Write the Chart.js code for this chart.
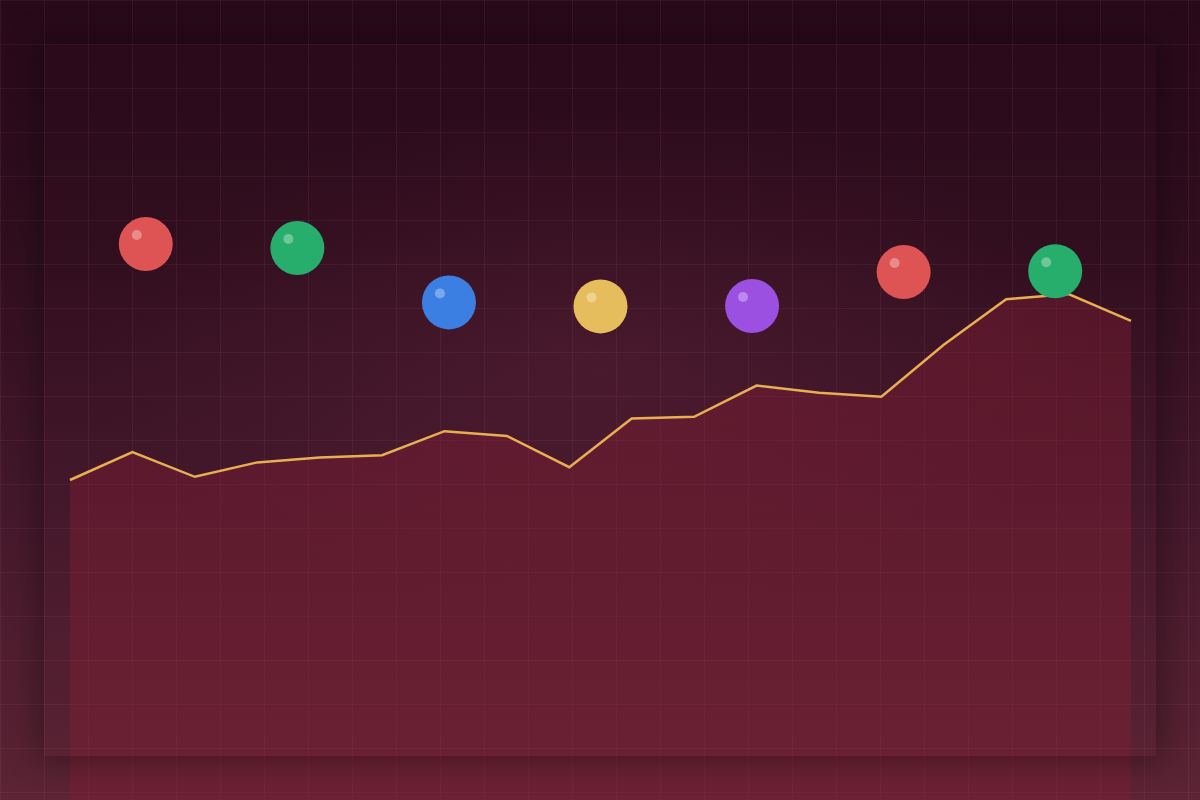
<!DOCTYPE html>
<html>
<head>
<meta charset="utf-8">
<title>Trend with markers</title>
<script src="https://cdn.jsdelivr.net/npm/chart.js@4.4.1/dist/chart.umd.min.js"></script>
<style>
  html, body { margin: 0; padding: 0; }
  body {
    width: 1200px;
    height: 800px;
    overflow: hidden;
    position: relative;
    background-color: #2c0d1c;
    background-image:
      linear-gradient(to right, rgba(255, 140, 190, 0.07) 1px, transparent 1px),
      linear-gradient(to bottom, rgba(255, 140, 190, 0.07) 1px, transparent 1px),
      radial-gradient(ellipse 60% 45% at 50% 45%, rgba(110, 40, 65, 0.3), rgba(0, 0, 0, 0) 70%),
      linear-gradient(to bottom, #28091a 0%, #300e1e 30%, #42172a 60%, #5c2434 100%);
    background-size: 44px 44px, 44px 44px, 100% 100%, 100% 100%;
  }
  .wrap { position: absolute; left: 0; top: 0; width: 1200px; height: 800px; }
  .panel {
    position: absolute;
    left: 44px; top: 44px;
    width: 1112px; height: 712px;
    box-shadow: 0 0 30px 6px rgba(0, 0, 0, 0.32);
    pointer-events: none;
  }
</style>
</head>
<body>
<div class="wrap"><canvas id="chart"></canvas></div>
<div class="panel"></div>
<script>
  // ── DATA ──────────────────────────────────
  const periods = ['1', '2', '3', '4', '5', '6', '7', '8', '9', '10', '11', '12', '13', '14', '15', '16', '17', '18'];
  const trendValues = [40.0, 43.5, 40.4, 42.2, 42.8, 43.1, 46.1, 45.5, 41.6, 47.7, 47.9, 51.8, 50.9, 50.4, 56.9, 62.6, 63.25, 59.9];

  const markerLabels = ['A', 'B', 'C', 'D', 'E', 'F', 'G'];
  const markerValues = [69.5, 69.0, 62.2, 61.7, 61.75, 66.0, 66.1];
  const markerColors = ['#de5454', '#27ad6c', '#3b7fe3', '#e6bd5c', '#9b50e2', '#de5454', '#27ad6c'];

  const yMin = 0;
  const yMax = 100;

  // small shine on each ball
  const shinePlugin = {
    id: 'shine',
    afterDatasetsDraw(chart) {
      const meta = chart.getDatasetMeta(0);
      const ctx = chart.ctx;
      ctx.save();
      ctx.fillStyle = 'rgba(255, 255, 255, 0.32)';
      meta.data.forEach((pt) => {
        ctx.beginPath();
        ctx.arc(pt.x - 9, pt.y - 9, 5, 0, Math.PI * 2);
        ctx.fill();
      });
      ctx.restore();
    }
  };

  new Chart(document.getElementById('chart'), {
    type: 'line',
    data: {
      labels: periods,
      datasets: [
        {
          label: 'markers',
          data: markerValues,
          xAxisID: 'xm',
          showLine: false,
          pointRadius: 27,
          pointHoverRadius: 27,
          pointBackgroundColor: markerColors,
          pointBorderWidth: 0,
          order: 0
        },
        {
          label: 'trend',
          data: trendValues,
          xAxisID: 'x',
          borderColor: '#e6b052',
          borderWidth: 2.5,
          backgroundColor: 'rgba(130, 32, 52, 0.42)',
          fill: 'start',
          tension: 0,
          pointRadius: 0,
          pointHoverRadius: 0,
          order: 1
        }
      ]
    },
    options: {
      responsive: true,
      maintainAspectRatio: false,
      animation: false,
      layout: { autoPadding: false, padding: { left: 70, right: 69, top: 0, bottom: 0 } },
      plugins: {
        legend: { display: false },
        tooltip: { enabled: false }
      },
      scales: {
        x: { type: 'category', display: false, offset: false },
        xm: { type: 'category', labels: markerLabels, display: false, offset: true },
        y: { type: 'linear', display: false, min: yMin, max: yMax }
      }
    },
    plugins: [shinePlugin]
  });
</script>
</body>
</html>
